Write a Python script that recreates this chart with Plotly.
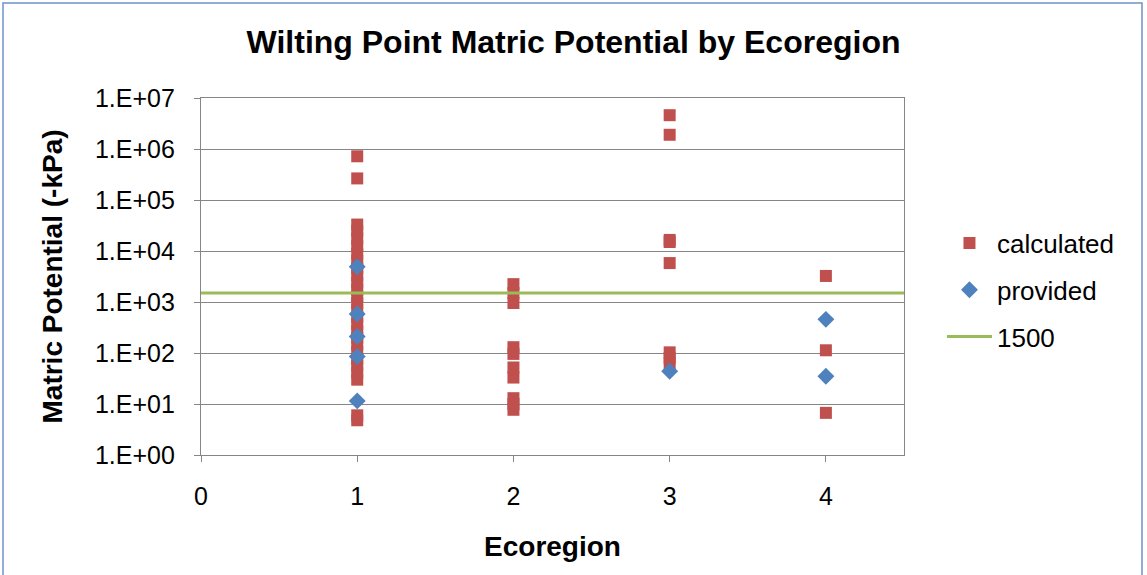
import plotly.graph_objects as go

# Ecoregion assignments and matric potential at wilting point (-kPa)
calc_region = [1] * 27 + [2] * 10 + [3] * 8 + [4] * 3
calc_kpa = [
    # ecoregion 1
    720000, 265000, 33000, 25000, 17500, 12500, 8800, 6400, 4600, 3300,
    2400, 1750, 1300, 950, 700, 510, 370, 270, 200, 146,
    105, 76, 56, 41, 30, 6.0, 4.8,
    # ecoregion 2
    2240, 1500, 955, 130, 96, 52, 33, 13, 7.7, 10,
    # ecoregion 3
    4600000, 1900000, 16500, 15000, 5800, 103, 80, 62,
    # ecoregion 4
    3240, 113, 6.7,
]

prov_region = [1, 1, 1, 1, 1, 3, 4, 4]
prov_kpa = [4900, 580, 210, 85, 11.5, 44, 457, 35]

ref_x = [0, 4.5]
ref_kpa = [1500, 1500]

y_tickvals = [1, 10, 100, 1e3, 1e4, 1e5, 1e6, 1e7]
y_ticktext = ["1.E+00", "1.E+01", "1.E+02", "1.E+03",
              "1.E+04", "1.E+05", "1.E+06", "1.E+07"]

FONT = "Liberation Sans, Arial, sans-serif"
GRID = "#868686"

fig = go.Figure()

fig.add_trace(go.Scatter(
    x=calc_region, y=calc_kpa, mode="markers", name="calculated",
    legendgroup="a",
    marker=dict(symbol="square", size=12, color="#C0504D"),
))
fig.add_trace(go.Scatter(
    x=prov_region, y=prov_kpa, mode="markers", name="provided",
    legendgroup="b",
    marker=dict(symbol="diamond", size=13, color="#4F81BD"),
))
fig.add_trace(go.Scatter(
    x=ref_x, y=ref_kpa, mode="lines", name="1500",
    legendgroup="c",
    line=dict(color="#9BBB59", width=3),
))

fig.update_layout(
    width=1147, height=575,
    margin=dict(l=201, r=243, t=98, b=120),
    paper_bgcolor="white", plot_bgcolor="white",
    font=dict(family=FONT, color="black"),
    title=dict(
        text="<b>Wilting Point Matric Potential by Ecoregion</b>",
        x=0.5, xref="container", xanchor="center",
        y=1 - 42 / 575, yref="container", yanchor="middle",
        font=dict(size=32, family=FONT, color="black"),
    ),
    legend=dict(
        x=1.054, xanchor="left", y=0.462, yanchor="middle",
        font=dict(size=26, family=FONT, color="black"),
        tracegroupgap=10, itemwidth=45, bgcolor="rgba(0,0,0,0)",
    ),
    showlegend=True,
)

fig.update_xaxes(
    range=[0, 4.5], dtick=1, tick0=0,
    showgrid=False, zeroline=False,
    showline=True, linecolor=GRID, linewidth=1.3, mirror=True,
    ticks="outside", ticklen=6, tickcolor=GRID, tickwidth=1.3,
    ticklabelstandoff=13,
    tickfont=dict(size=25, family=FONT, color="black"),
    title=dict(text="<b>Ecoregion</b>", standoff=27,
               font=dict(size=28, family=FONT, color="black")),
)

fig.update_yaxes(
    type="log", range=[0, 7],
    tickvals=y_tickvals, ticktext=y_ticktext,
    showgrid=True, gridcolor=GRID, gridwidth=1.3,
    zeroline=False,
    showline=True, linecolor=GRID, linewidth=1.3, mirror=True,
    ticks="outside", ticklen=6, tickcolor=GRID, tickwidth=1.3,
    ticklabelstandoff=14,
    tickfont=dict(size=25, family=FONT, color="black"),
    title=dict(text="<b>Matric Potential (-kPa)</b>", standoff=24,
               font=dict(size=28, family=FONT, color="black")),
)

# outer chart frame
fig.add_shape(
    type="rect", xref="paper", yref="paper",
    x0=(3 - 201) / 703, x1=(1142 - 201) / 703,
    y0=(455 - 590) / 357, y1=(455 - 3) / 357,
    line=dict(color="#6F93C8", width=1.5), fillcolor="rgba(0,0,0,0)",
    layer="below",
)

fig.write_html("out.html")
